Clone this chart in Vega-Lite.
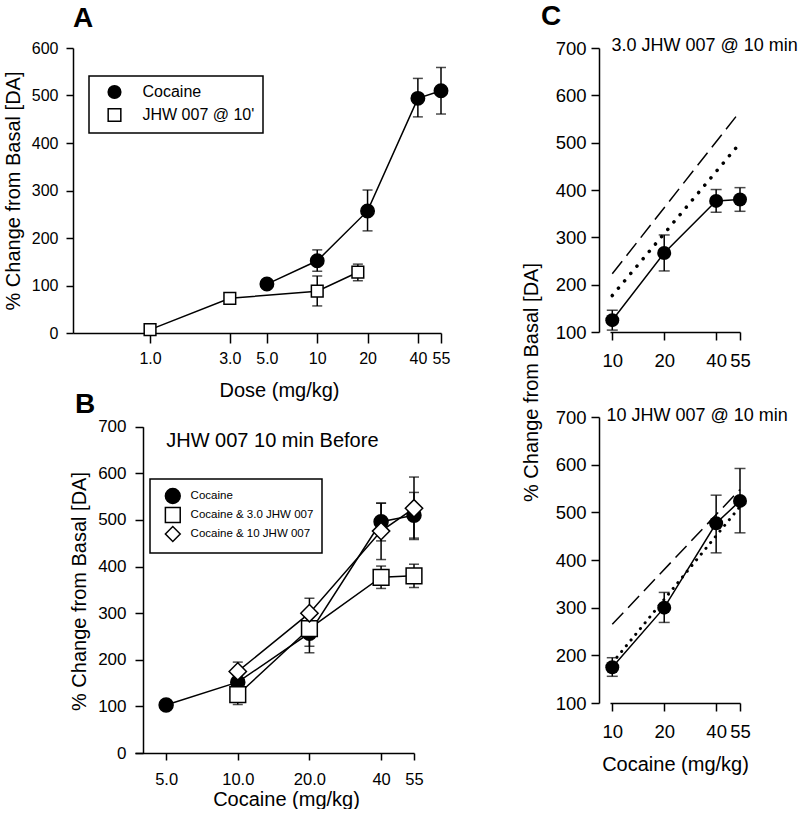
{
  "$schema": "https://vega.github.io/schema/vega-lite/v6.json",
  "padding": {"left": 3, "top": 3, "right": 0, "bottom": 0},
  "autosize": {"type": "pad"},
  "background": "white",
  "config": {
    "font": "Liberation Sans",
    "view": {"stroke": null},
    "axis": {"grid": false, "domainColor": "black", "domainWidth": 1.5, "tickColor": "black", "tickWidth": 1.5, "labelColor": "black", "titleColor": "black", "titleFontWeight": "normal", "titleFontSize": 20, "labelFont": "Liberation Sans", "titleFont": "Liberation Sans", "labelFlush": false, "labelOverlap": false},
    "legend": {"strokeColor": "black", "strokeWidth": 1.5, "labelFont": "Liberation Sans", "labelColor": "black"},
    "title": {"color": "black", "font": "Liberation Sans"}
  },
  "bounds": "flush",
  "columns": 2,
  "spacing": {"row": 84, "column": 169},
  "resolve": {
    "scale": {"x": "independent", "y": "independent", "shape": "independent", "fill": "independent", "size": "independent"},
    "legend": {"shape": "independent", "fill": "independent", "size": "independent"}
  },
  "datasets": {
    "a": [
      {"series": "Cocaine", "dose": 5, "value": 103},
      {"series": "Cocaine", "dose": 10, "value": 152, "lo": 130, "hi": 175},
      {"series": "Cocaine", "dose": 20, "value": 257, "lo": 215, "hi": 301},
      {"series": "Cocaine", "dose": 40, "value": 494, "lo": 455, "hi": 536},
      {"series": "Cocaine", "dose": 55, "value": 510, "lo": 461, "hi": 559},
      {"series": "JHW 007 @ 10'", "dose": 1, "value": 7},
      {"series": "JHW 007 @ 10'", "dose": 3, "value": 73, "lo": 66, "hi": 81},
      {"series": "JHW 007 @ 10'", "dose": 10, "value": 88, "lo": 57, "hi": 120},
      {"series": "JHW 007 @ 10'", "dose": 17.5, "value": 128, "lo": 110, "hi": 145}
    ],
    "b": [
      {"series": "Cocaine", "dose": 5, "value": 103},
      {"series": "Cocaine", "dose": 10, "value": 152, "lo": 130, "hi": 175},
      {"series": "Cocaine", "dose": 20, "value": 257, "lo": 215, "hi": 301},
      {"series": "Cocaine", "dose": 40, "value": 496, "lo": 455, "hi": 536},
      {"series": "Cocaine", "dose": 55, "value": 510, "lo": 461, "hi": 559},
      {"series": "Cocaine & 3.0 JHW 007", "dose": 10, "value": 125, "lo": 104, "hi": 146},
      {"series": "Cocaine & 3.0 JHW 007", "dose": 20, "value": 267, "lo": 229, "hi": 305},
      {"series": "Cocaine & 3.0 JHW 007", "dose": 40, "value": 377, "lo": 353, "hi": 401},
      {"series": "Cocaine & 3.0 JHW 007", "dose": 55, "value": 380, "lo": 355, "hi": 405},
      {"series": "Cocaine & 10 JHW 007", "dose": 10, "value": 175, "lo": 156, "hi": 195},
      {"series": "Cocaine & 10 JHW 007", "dose": 20, "value": 300, "lo": 269, "hi": 332},
      {"series": "Cocaine & 10 JHW 007", "dose": 40, "value": 476, "lo": 415, "hi": 536},
      {"series": "Cocaine & 10 JHW 007", "dose": 55, "value": 525, "lo": 458, "hi": 592}
    ],
    "ctop": [
      {"series": "Cocaine & 3.0 JHW 007", "dose": 10, "value": 125, "lo": 104, "hi": 146},
      {"series": "Cocaine & 3.0 JHW 007", "dose": 20, "value": 267, "lo": 229, "hi": 305},
      {"series": "Cocaine & 3.0 JHW 007", "dose": 40, "value": 377, "lo": 353, "hi": 401},
      {"series": "Cocaine & 3.0 JHW 007", "dose": 55, "value": 380, "lo": 355, "hi": 405}
    ],
    "ctopref": [
      {"kind": "dashed", "dose": 10, "value": 223},
      {"kind": "dashed", "dose": 55, "value": 566},
      {"kind": "dotted", "dose": 10, "value": 177},
      {"kind": "dotted", "dose": 55, "value": 499}
    ],
    "cbot": [
      {"series": "Cocaine & 10 JHW 007", "dose": 10, "value": 175, "lo": 156, "hi": 195},
      {"series": "Cocaine & 10 JHW 007", "dose": 20, "value": 300, "lo": 269, "hi": 332},
      {"series": "Cocaine & 10 JHW 007", "dose": 40, "value": 477, "lo": 415, "hi": 536},
      {"series": "Cocaine & 10 JHW 007", "dose": 55, "value": 524, "lo": 457, "hi": 592}
    ],
    "cbotref": [
      {"kind": "dashed", "dose": 10, "value": 265},
      {"kind": "dashed", "dose": 55, "value": 548},
      {"kind": "dotted", "dose": 10, "value": 184},
      {"kind": "dotted", "dose": 55, "value": 512}
    ]
  },
  "concat": [
    {
      "width": 368,
      "height": 285,
      "title": {"text": "A", "anchor": "start", "frame": "group", "fontSize": 28, "fontWeight": "bold", "baseline": "alphabetic", "offset": -14.8},
      "data": {"name": "a"},
      "encoding": {
        "x": {"field": "dose", "type": "quantitative", "scale": {"type": "log", "domain": [0.346, 55], "nice": false, "zero": false},
          "axis": {"title": "Dose (mg/kg)", "values": [1, 3, 5, 10, 20, 40, 55], "labelExpr": "datum.value < 10 ? format(datum.value, '.1f') : format(datum.value, 'd')", "tickSize": 10, "labelPadding": 7, "labelFontSize": 16, "titleX": 206, "titleY": 63, "titleBaseline": "alphabetic"}}
      },
      "layer": [
        {"mark": {"type": "rule", "color": "black", "strokeWidth": 1.5},
          "encoding": {"y": {"field": "lo", "type": "quantitative", "title": "% Change from Basal [DA]", "scale": {"domain": [0, 600], "nice": false, "zero": false}}, "y2": {"field": "hi"}}},
        {"mark": {"type": "tick", "orient": "horizontal", "color": "black", "size": 10, "thickness": 1.5},
          "encoding": {"y": {"field": "lo", "type": "quantitative", "title": "% Change from Basal [DA]", "scale": {"domain": [0, 600], "nice": false, "zero": false}}}},
        {"mark": {"type": "tick", "orient": "horizontal", "color": "black", "size": 10, "thickness": 1.5},
          "encoding": {"y": {"field": "hi", "type": "quantitative", "title": "% Change from Basal [DA]", "scale": {"domain": [0, 600], "nice": false, "zero": false}}}},
        {"mark": {"type": "line", "color": "black", "strokeWidth": 1.5},
          "encoding": {"y": {"field": "value", "type": "quantitative", "scale": {"domain": [0, 600], "nice": false, "zero": false},
            "axis": {"title": "% Change from Basal [DA]", "values": [0, 100, 200, 300, 400, 500, 600], "tickSize": 7, "labelPadding": 8, "labelFontSize": 16, "titleX": -60, "titleY": 142.5, "titleBaseline": "middle"}},
            "detail": {"field": "series", "type": "nominal"}}},
        {"mark": {"type": "point", "filled": true, "stroke": "black", "strokeWidth": 1.5, "opacity": 1},
          "encoding": {
            "y": {"field": "value", "type": "quantitative", "title": "% Change from Basal [DA]", "scale": {"domain": [0, 600], "nice": false, "zero": false}},
            "shape": {"field": "series", "type": "nominal", "scale": {"domain": ["Cocaine", "JHW 007 @ 10'"], "range": ["circle", "square"]},
              "legend": {"orient": "none", "legendX": 16, "legendY": 28, "title": null, "labelFontSize": 16, "padding": 8, "symbolOffset": 9.5, "labelOffset": 20, "rowPadding": 3, "symbolSize": 160, "symbolStrokeWidth": 1.5, "strokeColor": "black"}},
            "fill": {"field": "series", "type": "nominal", "scale": {"domain": ["Cocaine", "JHW 007 @ 10'"], "range": ["black", "white"]},
              "legend": {"orient": "none", "legendX": 16, "legendY": 28, "title": null, "labelFontSize": 16, "padding": 8, "symbolOffset": 9.5, "labelOffset": 20, "rowPadding": 3, "symbolSize": 160, "symbolStrokeWidth": 1.5, "strokeColor": "black"}},
            "size": {"field": "series", "type": "ordinal", "scale": {"domain": ["JHW 007 @ 10'", "Cocaine"], "range": [137, 180]}, "legend": null}
          }}
      ]
    },
    {
      "width": 130,
      "height": 284,
      "title": {"text": "C", "anchor": "start", "frame": "group", "fontSize": 28, "fontWeight": "bold", "baseline": "alphabetic", "offset": -16.5, "dx": -69},
      "encoding": {
        "x": {"field": "dose", "type": "quantitative", "scale": {"type": "log", "domain": [9.7, 55], "nice": false, "zero": false},
          "axis": {"title": "3.0 JHW 007 @ 10 min", "values": [10, 20, 40, 55], "format": "d", "tickSize": 8, "labelPadding": 11, "labelFontSize": 18.5, "titleX": 1, "titleY": -281.3, "titleAlign": "left", "titleAnchor": "start", "titleBaseline": "alphabetic", "titleFontSize": 18}}
      },
      "layer": [
        {"data": {"name": "ctop"}, "mark": {"type": "rule", "color": "black", "strokeWidth": 1.5},
          "encoding": {"y": {"field": "lo", "type": "quantitative", "title": "% Change from Basal [DA]", "scale": {"domain": [100, 700], "nice": false, "zero": false}}, "y2": {"field": "hi"}}},
        {"data": {"name": "ctop"}, "mark": {"type": "tick", "orient": "horizontal", "color": "black", "size": 11, "thickness": 1.5},
          "encoding": {"y": {"field": "lo", "type": "quantitative", "title": "% Change from Basal [DA]", "scale": {"domain": [100, 700], "nice": false, "zero": false}}}},
        {"data": {"name": "ctop"}, "mark": {"type": "tick", "orient": "horizontal", "color": "black", "size": 11, "thickness": 1.5},
          "encoding": {"y": {"field": "hi", "type": "quantitative", "title": "% Change from Basal [DA]", "scale": {"domain": [100, 700], "nice": false, "zero": false}}}},
        {"data": {"name": "ctopref"}, "transform": [{"filter": "datum.kind === 'dashed'"}],
          "mark": {"type": "line", "color": "black", "strokeWidth": 1.5, "strokeDash": [16, 7]},
          "encoding": {"y": {"field": "value", "type": "quantitative", "title": "% Change from Basal [DA]", "scale": {"domain": [100, 700], "nice": false, "zero": false}}}},
        {"data": {"name": "ctopref"}, "transform": [{"filter": "datum.kind === 'dotted'"}],
          "mark": {"type": "line", "color": "black", "strokeWidth": 3.5, "strokeDash": [0.1, 9.5], "strokeCap": "round"},
          "encoding": {"y": {"field": "value", "type": "quantitative", "title": "% Change from Basal [DA]", "scale": {"domain": [100, 700], "nice": false, "zero": false}}}},
        {"data": {"name": "ctop"}, "mark": {"type": "line", "color": "black", "strokeWidth": 1.5},
          "encoding": {"y": {"field": "value", "type": "quantitative", "scale": {"domain": [100, 700], "nice": false, "zero": false},
            "axis": {"title": "% Change from Basal [DA]", "values": [100, 200, 300, 400, 500, 600, 700], "offset": 11, "tickSize": 8, "labelPadding": 5, "labelFontSize": 18.5, "titleX": -68, "titleY": 334, "titleBaseline": "middle"}}}},
        {"data": {"name": "ctop"}, "mark": {"type": "point", "filled": true, "color": "black", "size": 196, "opacity": 1},
          "encoding": {"y": {"field": "value", "type": "quantitative", "title": "% Change from Basal [DA]", "scale": {"domain": [100, 700], "nice": false, "zero": false}}}}
      ]
    },
    {
      "width": 341,
      "height": 336,
      "title": {"text": "B", "anchor": "start", "frame": "group", "fontSize": 28, "fontWeight": "bold", "baseline": "alphabetic", "offset": -24, "dx": 2},
      "data": {"name": "b"},
      "resolve": {"axis": {"x": "independent"}},
      "encoding": {
        "x": {"field": "dose", "type": "quantitative", "scale": {"type": "log", "domain": [3.7, 55], "range": [62, 341], "nice": false, "zero": false}, "axis": null}
      },
      "layer": [
        {"mark": {"type": "rule", "color": "black", "strokeWidth": 1.5},
          "encoding": {"y": {"field": "lo", "type": "quantitative", "title": "% Change from Basal [DA]", "scale": {"domain": [0, 700], "range": [336, 9.7], "nice": false, "zero": false}}, "y2": {"field": "hi"}}},
        {"mark": {"type": "tick", "orient": "horizontal", "color": "black", "size": 10, "thickness": 1.5},
          "encoding": {"y": {"field": "lo", "type": "quantitative", "title": "% Change from Basal [DA]", "scale": {"domain": [0, 700], "range": [336, 9.7], "nice": false, "zero": false}}}},
        {"mark": {"type": "tick", "orient": "horizontal", "color": "black", "size": 10, "thickness": 1.5},
          "encoding": {"y": {"field": "hi", "type": "quantitative", "title": "% Change from Basal [DA]", "scale": {"domain": [0, 700], "range": [336, 9.7], "nice": false, "zero": false}}}},
        {"mark": {"type": "line", "color": "black", "strokeWidth": 1.5},
          "encoding": {
            "x": {"field": "dose", "type": "quantitative", "scale": {"type": "log", "domain": [3.7, 55], "range": [62, 341], "nice": false, "zero": false},
              "axis": {"orient": "bottom", "title": "Cocaine (mg/kg)", "values": [5, 10, 20, 40, 55], "labelExpr": "datum.value < 40 ? format(datum.value, '.1f') : format(datum.value, 'd')", "tickSize": 7, "labelPadding": 11, "labelFontSize": 16.5, "titleX": 213, "titleY": 52, "titleBaseline": "alphabetic"}},
            "y": {"field": "value", "type": "quantitative", "scale": {"domain": [0, 700], "range": [336, 9.7], "nice": false, "zero": false},
              "axis": {"title": "% Change from Basal [DA]", "values": [0, 100, 200, 300, 400, 500, 600, 700], "offset": -70, "tickSize": 8, "labelPadding": 9, "labelFontSize": 17, "titleX": -64, "titleY": 174, "titleBaseline": "middle"}},
            "detail": {"field": "series", "type": "nominal"}}},
        {"mark": {"type": "point", "filled": true, "stroke": "black", "strokeWidth": 1.5, "opacity": 1},
          "encoding": {
            "x": {"field": "dose", "type": "quantitative", "scale": {"type": "log", "domain": [3.7, 55], "range": [62, 341], "nice": false, "zero": false},
              "axis": {"orient": "top", "domain": false, "ticks": false, "labels": false, "title": "JHW 007 10 min Before", "titleX": 92.7, "titleY": 29, "titleAlign": "left", "titleAnchor": "start", "titleBaseline": "alphabetic", "titleFontSize": 20}},
            "y": {"field": "value", "type": "quantitative", "title": "% Change from Basal [DA]", "scale": {"domain": [0, 700], "range": [336, 9.7], "nice": false, "zero": false}},
            "shape": {"field": "series", "type": "nominal", "scale": {"domain": ["Cocaine", "Cocaine & 3.0 JHW 007", "Cocaine & 10 JHW 007"], "range": ["circle", "square", "diamond"]},
              "legend": {"orient": "none", "legendX": 77, "legendY": 62, "title": null, "labelFontSize": 11.5, "padding": 8.5, "symbolOffset": 5.8, "labelOffset": 9.3, "rowPadding": -3.8, "symbolSize": 220, "symbolStrokeWidth": 1.5, "strokeColor": "black"}},
            "fill": {"field": "series", "type": "nominal", "scale": {"domain": ["Cocaine", "Cocaine & 3.0 JHW 007", "Cocaine & 10 JHW 007"], "range": ["black", "white", "white"]},
              "legend": {"orient": "none", "legendX": 77, "legendY": 62, "title": null, "labelFontSize": 11.5, "padding": 8.5, "symbolOffset": 5.8, "labelOffset": 9.3, "rowPadding": -3.8, "symbolSize": 220, "symbolStrokeWidth": 1.5, "strokeColor": "black"}},
            "size": {"field": "series", "type": "ordinal", "scale": {"domain": ["Cocaine & 10 JHW 007", "Cocaine & 3.0 JHW 007", "Cocaine"], "range": [300, 196, 196]}, "legend": null}
          }}
      ]
    },
    {
      "width": 130,
      "height": 286,
      "encoding": {
        "x": {"field": "dose", "type": "quantitative", "scale": {"type": "log", "domain": [9.7, 55], "nice": false, "zero": false},
          "axis": {"title": "Cocaine (mg/kg)", "values": [10, 20, 40, 55], "format": "d", "tickSize": 8, "labelPadding": 11, "labelFontSize": 18.5, "titleX": 65, "titleY": 67, "titleBaseline": "alphabetic"}}
      },
      "layer": [
        {"data": {"name": "cbot"}, "mark": {"type": "rule", "color": "black", "strokeWidth": 1.5},
          "encoding": {"y": {"field": "lo", "type": "quantitative", "title": "10 JHW 007 @ 10 min", "scale": {"domain": [100, 700], "nice": false, "zero": false}}, "y2": {"field": "hi"}}},
        {"data": {"name": "cbot"}, "mark": {"type": "tick", "orient": "horizontal", "color": "black", "size": 11, "thickness": 1.5},
          "encoding": {"y": {"field": "lo", "type": "quantitative", "title": "10 JHW 007 @ 10 min", "scale": {"domain": [100, 700], "nice": false, "zero": false}}}},
        {"data": {"name": "cbot"}, "mark": {"type": "tick", "orient": "horizontal", "color": "black", "size": 11, "thickness": 1.5},
          "encoding": {"y": {"field": "hi", "type": "quantitative", "title": "10 JHW 007 @ 10 min", "scale": {"domain": [100, 700], "nice": false, "zero": false}}}},
        {"data": {"name": "cbotref"}, "transform": [{"filter": "datum.kind === 'dashed'"}],
          "mark": {"type": "line", "color": "black", "strokeWidth": 1.5, "strokeDash": [16, 7]},
          "encoding": {"y": {"field": "value", "type": "quantitative", "title": "10 JHW 007 @ 10 min", "scale": {"domain": [100, 700], "nice": false, "zero": false}}}},
        {"data": {"name": "cbotref"}, "transform": [{"filter": "datum.kind === 'dotted'"}],
          "mark": {"type": "line", "color": "black", "strokeWidth": 3, "strokeDash": [0.1, 7.3], "strokeCap": "round"},
          "encoding": {"y": {"field": "value", "type": "quantitative", "title": "10 JHW 007 @ 10 min", "scale": {"domain": [100, 700], "nice": false, "zero": false}}}},
        {"data": {"name": "cbot"}, "mark": {"type": "line", "color": "black", "strokeWidth": 1.5},
          "encoding": {"y": {"field": "value", "type": "quantitative", "scale": {"domain": [100, 700], "nice": false, "zero": false},
            "axis": {"title": "10 JHW 007 @ 10 min", "values": [100, 200, 300, 400, 500, 600, 700], "offset": 11, "tickSize": 8, "labelPadding": 5, "labelFontSize": 18.5, "titleAngle": 0, "titleX": 7, "titleY": 3, "titleAlign": "left", "titleAnchor": "start", "titleBaseline": "alphabetic", "titleFontSize": 18}}}},
        {"data": {"name": "cbot"}, "mark": {"type": "point", "filled": true, "color": "black", "size": 196, "opacity": 1},
          "encoding": {"y": {"field": "value", "type": "quantitative", "title": "10 JHW 007 @ 10 min", "scale": {"domain": [100, 700], "nice": false, "zero": false}}}}
      ]
    }
  ]
}
